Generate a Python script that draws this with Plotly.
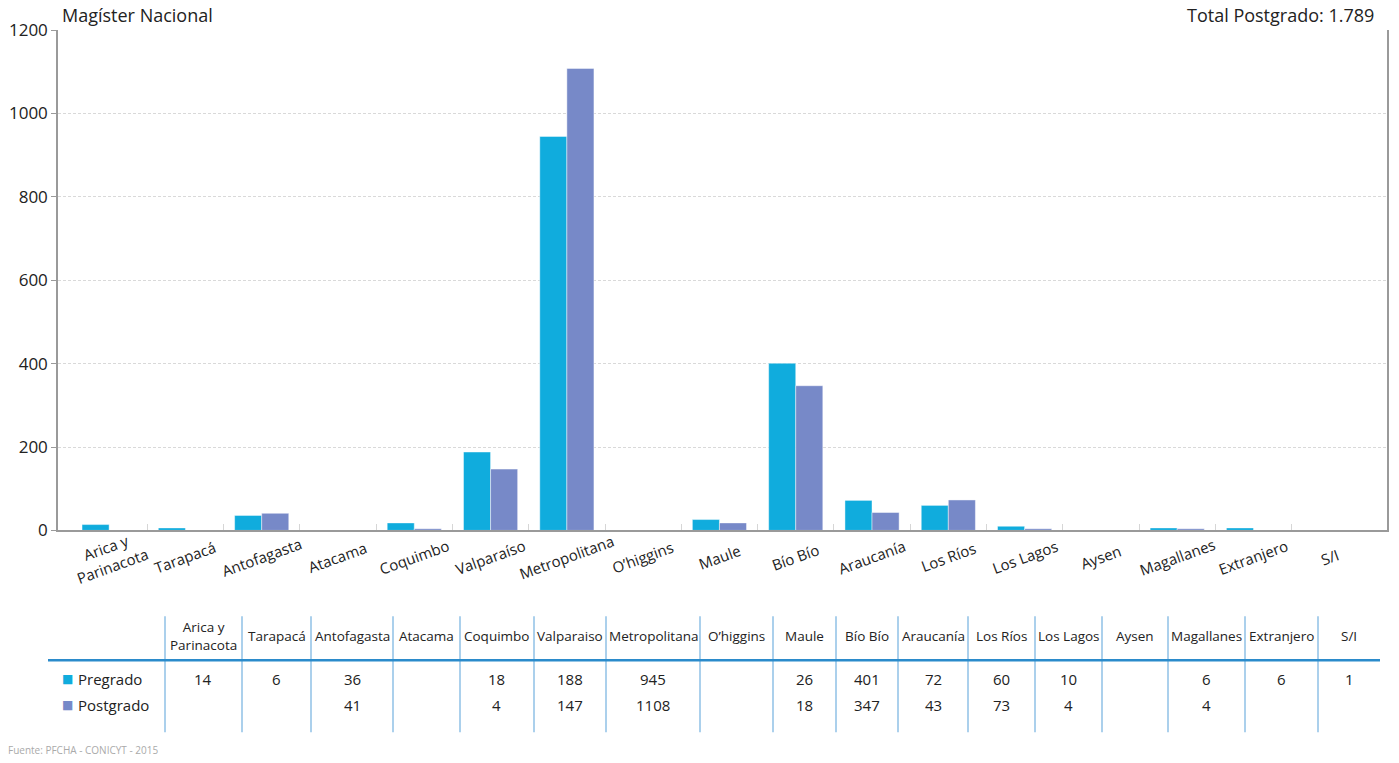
import plotly.graph_objects as go

# ---------------- data ----------------
categories = ["Arica y Parinacota", "Tarapacá", "Antofagasta", "Atacama", "Coquimbo",
              "Valparaíso", "Metropolitana", "O’higgins", "Maule", "Bío Bío", "Araucanía",
              "Los Ríos", "Los Lagos", "Aysen", "Magallanes", "Extranjero", "S/I"]
axis_labels = ["Arica y<br>Parinacota", "Tarapacá", "Antofagasta", "Atacama", "Coquimbo",
               "Valparaíso", "Metropolitana", "O’higgins", "Maule", "Bío Bío", "Araucanía",
               "Los Ríos", "Los Lagos", "Aysen", "Magallanes", "Extranjero", "S/I"]
table_headers = ["Arica y<br>Parinacota", "Tarapacá", "Antofagasta", "Atacama", "Coquimbo",
                 "Valparaiso", "Metropolitana", "O’higgins", "Maule", "Bío Bío", "Araucanía",
                 "Los Ríos", "Los Lagos", "Aysen", "Magallanes", "Extranjero", "S/I"]
pregrado = [14, 6, 36, None, 18, 188, 945, None, 26, 401, 72, 60, 10, None, 6, 6, 1]
postgrado = [None, None, 41, None, 4, 147, 1108, None, 18, 347, 43, 73, 4, None, 4, None, None]
series_names = ["Pregrado", "Postgrado"]
y_ticks = [0, 200, 400, 600, 800, 1000, 1200]
title_left = "Magíster Nacional"
title_right = "Total Postgrado: 1.789"
source = "Fuente: PFCHA - CONICYT - 2015"

# ---------------- style ----------------
W, H = 1399, 763
# the page is shown with its drawing area slightly inset vertically; compensate
Y_OFF, H_EFF = 11.9, 741.0
C_PRE = "#10ACDD"
C_POST = "#7789C8"
FONT = "Open Sans"
TXT = "#222222"
LINE_BLUE = "#2B8BCB"
VLINE = "#8FC0E6"


def px(x):
    return x / W


def py(y):
    return 1 - (y - Y_OFF) / H_EFF


fig = go.Figure()
idx = list(range(len(categories)))
fig.add_trace(go.Bar(x=idx, y=pregrado, name=series_names[0],
                     marker=dict(color=C_PRE, line=dict(color="rgba(255,255,255,0.45)", width=1))))
fig.add_trace(go.Bar(x=idx, y=postgrado, name=series_names[1],
                     marker=dict(color=C_POST, line=dict(color="rgba(255,255,255,0.45)", width=1))))

annotations = []
shapes = []

# rotated category labels
for i, lab in enumerate(axis_labels):
    annotations.append(dict(x=i, xref="x", y=py(558), yref="paper", text=lab,
                            showarrow=False, textangle=-20, xanchor="center", yanchor="middle",
                            font=dict(family=FONT, size=15, color=TXT)))

# titles
annotations.append(dict(x=px(60), y=py(15), xref="paper", yref="paper", text=title_left,
                        showarrow=False, xanchor="left", yanchor="middle",
                        font=dict(family=FONT, size=18, color=TXT)))
annotations.append(dict(x=px(1376), y=py(15), xref="paper", yref="paper", text=title_right,
                        showarrow=False, xanchor="right", yanchor="middle",
                        font=dict(family=FONT, size=18, color=TXT)))
annotations.append(dict(x=px(6), y=py(751), xref="paper", yref="paper", text=source,
                        showarrow=False, xanchor="left", yanchor="middle",
                        font=dict(family=FONT, size=10, color="#aaaaaa")))

# data table below the chart
col_bounds = [165, 242, 311, 393, 460, 534, 606, 700, 773, 836, 898, 968,
              1035, 1102, 1168, 1245, 1318, 1380]
for b in col_bounds[:-1]:
    shapes.append(dict(type="line", xref="paper", yref="paper", x0=px(b), x1=px(b),
                       y0=py(617), y1=py(733), line=dict(color=VLINE, width=1.5)))
shapes.append(dict(type="line", xref="paper", yref="paper", x0=px(48), x1=px(1380),
                   y0=py(661), y1=py(661), line=dict(color=LINE_BLUE, width=2.5)))

row_y = [680, 706]
series = [pregrado, postgrado]
colors = [C_PRE, C_POST]
for r, name in enumerate(series_names):
    annotations.append(dict(x=px(60), y=py(row_y[r]), xref="paper", yref="paper", text="■",
                            showarrow=False, xanchor="left", yanchor="middle",
                            font=dict(family="DejaVu Sans", size=12, color=colors[r])))
    annotations.append(dict(x=px(76), y=py(row_y[r]), xref="paper", yref="paper", text=name,
                            showarrow=False, xanchor="left", yanchor="middle",
                            font=dict(family=FONT, size=15, color=TXT)))

for i, hdr in enumerate(table_headers):
    cx = (col_bounds[i] + col_bounds[i + 1]) / 2
    annotations.append(dict(x=px(cx), y=py(637), xref="paper", yref="paper", text=hdr,
                            showarrow=False, xanchor="center", yanchor="middle",
                            font=dict(family=FONT, size=13.5, color=TXT)))
    for r in range(2):
        v = series[r][i]
        if v is not None:
            annotations.append(dict(x=px(cx), y=py(row_y[r]), xref="paper", yref="paper",
                                    text=str(v), showarrow=False, xanchor="center",
                                    yanchor="middle",
                                    font=dict(family=FONT, size=15, color=TXT)))

fig.update_layout(
    width=W, height=H,
    margin=dict(l=0, r=0, t=0, b=0),
    paper_bgcolor="white", plot_bgcolor="white",
    barmode="group", bargap=0.29, bargroupgap=0,
    showlegend=False,
    annotations=annotations, shapes=shapes,
    xaxis=dict(domain=[px(58), px(1387)], type="linear", range=[-0.67, 16.75],
               tickmode="array", tickvals=[i + 0.5 for i in idx[:-1]], showticklabels=False,
               ticks="inside", ticklen=6, tickcolor="#d6d6d6", tickwidth=1,
               showgrid=False, zeroline=False, showline=True, linecolor="#9a9a9a", linewidth=2),
    yaxis=dict(domain=[py(531), py(30)], range=[0, 1200], tickvals=y_ticks,
               ticks="outside", ticklen=5, tickcolor="#9a9a9a",
               tickfont=dict(family=FONT, size=17, color=TXT),
               showgrid=True, gridcolor="#d9d9d9", griddash="3px,2px", gridwidth=1,
               zeroline=False, showline=True, linecolor="#9a9a9a", linewidth=1.5, mirror=True),
)

fig.write_html("out.html", config={"displayModeBar": False},
               post_script="document.body.style.margin='0';document.body.style.overflow='hidden';")
